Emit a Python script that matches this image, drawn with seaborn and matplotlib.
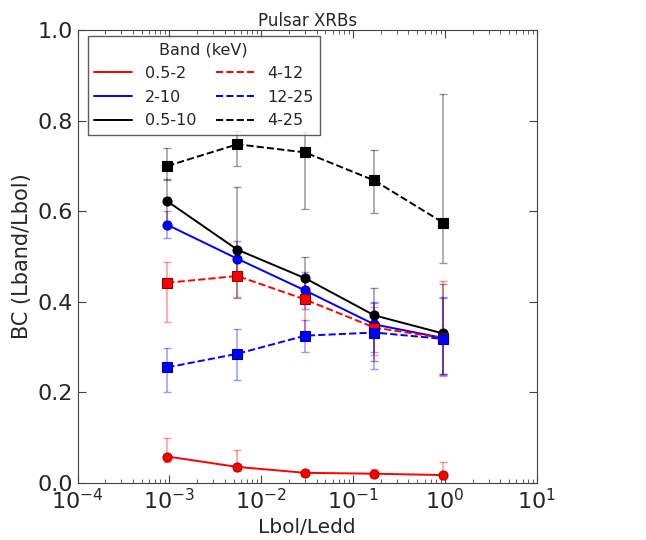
import numpy as np
import pandas as pd
import matplotlib
matplotlib.use('Agg')
import matplotlib.pyplot as plt
from matplotlib.lines import Line2D
from matplotlib.ticker import LogLocator, NullFormatter
import seaborn as sns

# Lbol/Ledd bins
lbol_ledd = [0.00095, 0.0055, 0.03, 0.17, 0.95]

bands = ['0.5-2', '2-10', '0.5-10', '4-12', '12-25', '4-25']

bc_05_2 = [0.058, 0.035, 0.022, 0.020, 0.017]
bc_2_10 = [0.570, 0.495, 0.425, 0.350, 0.320]
bc_05_10 = [0.622, 0.515, 0.452, 0.370, 0.330]
bc_4_12 = [0.442, 0.457, 0.405, 0.343, 0.320]
bc_12_25 = [0.255, 0.285, 0.325, 0.332, 0.318]
bc_4_25 = [0.700, 0.748, 0.730, 0.668, 0.575]

# lower / upper error sizes
err_05_2 = ([0.013, 0.010, 0.005, 0.006, 0.008], [0.042, 0.037, 0.006, 0.010, 0.028])
err_2_10 = ([0.030, 0.040, 0.040, 0.060, 0.080], [0.030, 0.040, 0.040, 0.050, 0.090])
err_05_10 = ([0.050, 0.107, 0.050, 0.100, 0.090], [0.050, 0.139, 0.048, 0.060, 0.110])
err_4_12 = ([0.087, 0.047, 0.075, 0.060, 0.085], [0.046, 0.043, 0.045, 0.045, 0.125])
err_12_25 = ([0.055, 0.057, 0.035, 0.080, 0.080], [0.043, 0.055, 0.035, 0.065, 0.090])
err_4_25 = ([0.030, 0.048, 0.125, 0.072, 0.090], [0.040, 0.030, 0.045, 0.067, 0.285])

values = [bc_05_2, bc_2_10, bc_05_10, bc_4_12, bc_12_25, bc_4_25]
errors = [err_05_2, err_2_10, err_05_10, err_4_12, err_12_25, err_4_25]
colors = ['#ff0000', '#0000ff', '#000000', '#ff0000', '#0000ff', '#000000']
edges = ['#b00000', '#0000b0', '#000000', '#900000', '#000090', '#000000']
styles = ['-', '-', '-', '--', '--', '--']
markers = ['o', 'o', 'o', 's', 's', 's']

sns.set_style('ticks', {'xtick.direction': 'in', 'ytick.direction': 'in'})
plt.rcParams['font.family'] = ['DejaVu Sans']

fig = plt.figure(figsize=(6.46, 5.4), dpi=100)
ax = fig.add_axes([0.12, 0.106, 0.711, 0.838])

for band, vals, err, c, ec, ls, m in zip(bands, values, errors, colors, edges, styles, markers):
    df = pd.DataFrame({'x': lbol_ledd, 'y': vals})
    ax.errorbar(df['x'], df['y'], yerr=[err[0], err[1]], fmt='none', ecolor=c,
                alpha=0.4, elinewidth=1.1, capsize=3, capthick=1)
    sns.lineplot(data=df, x='x', y='y', ax=ax, color=c, linestyle=ls, marker=m,
                 markersize=6.5, markeredgecolor=ec, markeredgewidth=0.8,
                 linewidth=1.4, zorder=3)

ax.set_xscale('log')
ax.set_xlim(1e-4, 1e1)
ax.set_ylim(0, 1.0)
ax.xaxis.set_minor_locator(LogLocator(base=10, subs=np.arange(2, 10), numticks=20))
ax.xaxis.set_minor_formatter(NullFormatter())
ax.set_yticks([0.0, 0.2, 0.4, 0.6, 0.8, 1.0])
ax.set_yticklabels(['0.0', '0.2', '0.4', '0.6', '0.8', '1.0'])
ax.tick_params(axis='both', which='both', top=True, right=True, labelsize=16,
               color='#444444')
ax.tick_params(which='major', length=6)
ax.tick_params(which='minor', length=3)
for s in ax.spines.values():
    s.set_color('#444444')

ax.set_title('Pulsar XRBs', fontsize=12, pad=3)
ax.set_xlabel('Lbol/Ledd', fontsize=14.5)
ax.set_ylabel('BC (Lband/Lbol)', fontsize=15)

handles = [Line2D([0], [0], color=c, linestyle=ls, linewidth=1.4)
           for c, ls in zip(colors, styles)]
leg = ax.legend(handles, bands, loc='upper left', bbox_to_anchor=(0.022, 0.988),
                borderaxespad=0, ncol=2, title='Band (keV)',
                fontsize=11.5, title_fontsize=11.5, fancybox=False, frameon=True,
                handlelength=2.4, columnspacing=1.2, labelspacing=0.55,
                handletextpad=0.8)
leg.get_frame().set_edgecolor('#333333')
leg.get_frame().set_linewidth(1.0)

fig.savefig('out.png', dpi=100)
